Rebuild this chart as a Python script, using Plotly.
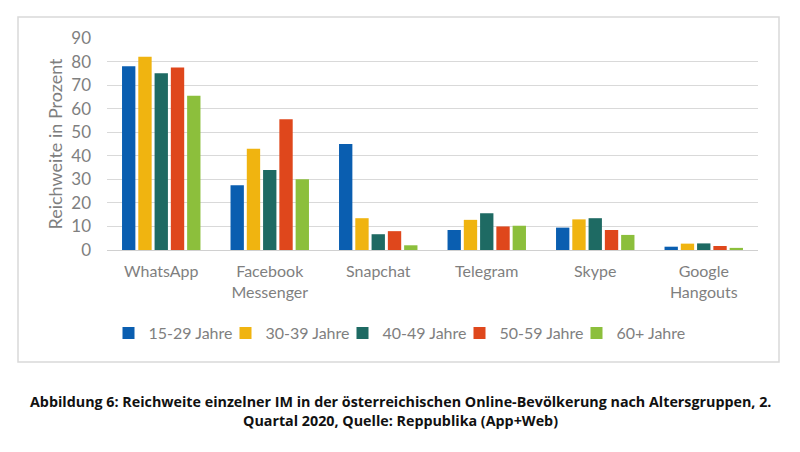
import plotly.graph_objects as go

categories = ["WhatsApp", "Facebook<br>Messenger", "Snapchat", "Telegram", "Skype", "Google<br>Hangouts"]
series_names = ["15-29 Jahre", "30-39 Jahre", "40-49 Jahre", "50-59 Jahre", "60+ Jahre"]
v_15_29 = [78, 27.5, 45, 8.5, 9.5, 1.4]
v_30_39 = [82, 43, 13.5, 12.8, 13, 2.7]
v_40_49 = [75, 34, 6.7, 15.6, 13.5, 2.8]
v_50_59 = [77.5, 55.5, 8, 10, 8.5, 1.7]
v_60p = [65.5, 30, 2, 10.3, 6.4, 0.9]
colors = ["#0A5EB0", "#F0B410", "#1E6A63", "#DF471C", "#8CBF3C"]
y_ticks = [0, 10, 20, 30, 40, 50, 60, 70, 80, 90]

OFF = 8  # page body margin
W, H = 800 - OFF, 452 - OFF
# plot area in reference pixel coords: x 107..758, y 38..250
L = 107 - OFF
T = 38 - OFF
R = W - (758 - OFF)
B = H - (250 - OFF)
pw, ph = W - L - R, H - T - B

def px_x(x):
    return (x - OFF - L) / pw

def px_y(y):
    return (H - B - (y - OFF)) / ph

fig = go.Figure()
for name, vals, col in zip(series_names, [v_15_29, v_30_39, v_40_49, v_50_59, v_60p], colors):
    fig.add_trace(go.Bar(x=categories, y=vals, name=name, marker=dict(color=col, line=dict(width=0))))

gray = "#7f7f7f"
font_main = "Lato, 'Open Sans', sans-serif"

fig.update_layout(
    width=W, height=H,
    margin=dict(l=L, r=R, t=T, b=B, pad=0),
    paper_bgcolor="white", plot_bgcolor="white",
    barmode="group", bargap=0.25, bargroupgap=0.18,
    font=dict(family=font_main, color=gray, size=16),
    showlegend=True,
    legend=dict(orientation="h", x=px_x(401), xanchor="center", y=px_y(333), yanchor="middle",
                font=dict(size=16, color=gray), itemwidth=30, tracegroupgap=0,
                entrywidth=72, entrywidthmode="pixels",
                itemsizing="constant", bgcolor="rgba(0,0,0,0)"),
    xaxis=dict(showgrid=False, showline=False, ticks="", tickfont=dict(size=16, color=gray),
               ticklabelstandoff=10, zeroline=False),
    yaxis=dict(range=[0, 90], tickvals=y_ticks, showgrid=True, gridcolor="#d9d9d9", gridwidth=1,
               zeroline=True, zerolinecolor="#d0d0d0", zerolinewidth=1, showline=False, ticks="",
               tickfont=dict(size=17, color=gray), ticklabelstandoff=15,
               title=dict(text="Reichweite in Prozent", font=dict(size=18, color=gray), standoff=3)),
    shapes=[dict(type="rect", xref="paper", yref="paper",
                 x0=px_x(18), x1=px_x(779), y0=px_y(362), y1=px_y(17),
                 line=dict(color="#d9d9d9", width=1.5), fillcolor="rgba(0,0,0,0)", layer="below")],
    annotations=[
        dict(text="<b>Abbildung 6: Reichweite einzelner IM in der österreichischen Online-Bevölkerung nach Altersgruppen, 2.</b>",
             xref="paper", yref="paper", x=px_x(400), y=px_y(401), xanchor="center", yanchor="middle",
             showarrow=False, font=dict(family="'Open Sans', sans-serif", size=14.3, color="#111111")),
        dict(text="<b>Quartal 2020, Quelle: Reppublika (App+Web)</b>",
             xref="paper", yref="paper", x=px_x(400), y=px_y(420), xanchor="center", yanchor="middle",
             showarrow=False, font=dict(family="'Open Sans', sans-serif", size=14.3, color="#111111")),
    ],
)

fig.write_html("out.html")
